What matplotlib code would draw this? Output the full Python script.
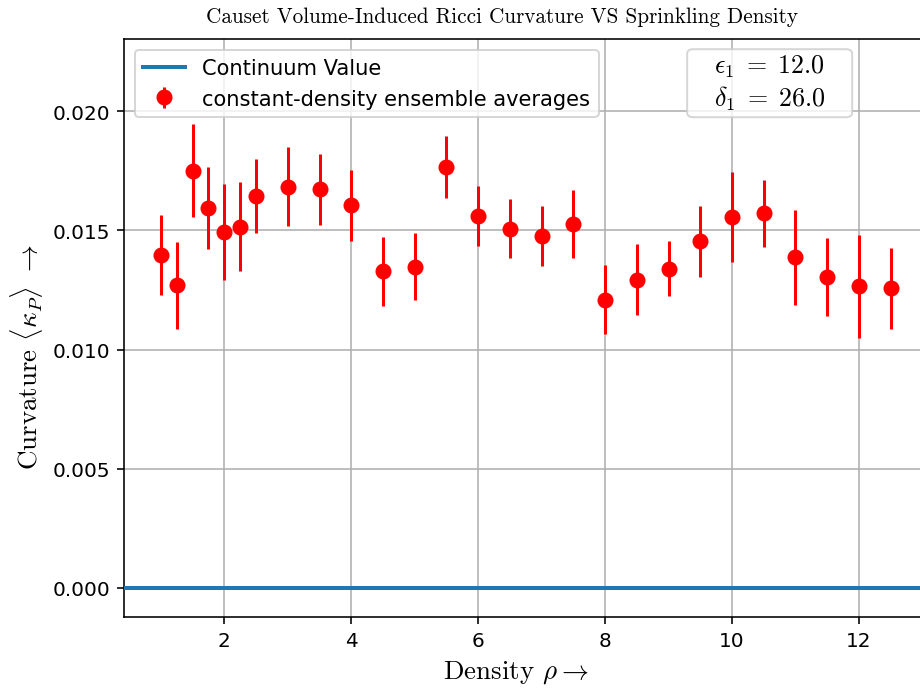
import numpy as np
import matplotlib.pyplot as plt
from matplotlib.patches import FancyBboxPatch

plt.rcParams["mathtext.fontset"] = "cm"
plt.rcParams["axes.unicode_minus"] = False

# ensemble averages of the curvature estimator at each sprinkling density
rho = [1.0, 1.25, 1.5, 1.75, 2.0, 2.25, 2.5, 3.0, 3.5, 4.0, 4.5, 5.0, 5.5, 6.0,
       6.5, 7.0, 7.5, 8.0, 8.5, 9.0, 9.5, 10.0, 10.5, 11.0, 11.5, 12.0, 12.5]
kappa_mean = [0.01396, 0.01270, 0.01750, 0.01593, 0.01494, 0.01515, 0.01645,
              0.01684, 0.01672, 0.01606, 0.01328, 0.01347, 0.01767, 0.01561,
              0.01507, 0.01476, 0.01526, 0.01209, 0.01293, 0.01340, 0.01454,
              0.01557, 0.01571, 0.01387, 0.01305, 0.01265, 0.01257]
kappa_err = [0.00168, 0.00183, 0.00195, 0.00172, 0.00201, 0.00186, 0.00156,
             0.00164, 0.00150, 0.00149, 0.00146, 0.00140, 0.00130, 0.00125,
             0.00125, 0.00127, 0.00143, 0.00145, 0.00150, 0.00114, 0.00150,
             0.00189, 0.00142, 0.00200, 0.00163, 0.00215, 0.00170]
continuum_value = 0.0
eps1, delta1 = 12.0, 26.0

fig = plt.figure(figsize=(6.39, 4.805), dpi=144)
ax = fig.add_axes([0.1352, 0.107, 0.8724, 0.835])

ax.axhline(continuum_value, color="C0", lw=2, label="Continuum Value", zorder=3)
ax.errorbar(rho, kappa_mean, yerr=kappa_err, fmt="o", color="red",
            markersize=7, elinewidth=1.5, label="constant-density ensemble averages",
            zorder=4)

ax.set_xlim(0.425, 13.075)
ax.set_ylim(-0.00122, 0.02302)
ax.set_xticks([2, 4, 6, 8, 10, 12])
ax.set_yticks([0.0, 0.005, 0.010, 0.015, 0.020])
ax.grid(True)

fig.text(0.5457, 1 - 17 / 692, "Causet Volume-Induced Ricci Curvature VS Sprinkling Density",
         family="cmr10", fontsize=10.6, ha="center", va="center")
ax.set_xlabel(r"Density $\rho \to$", family="cmr10", fontsize=13.5)
ax.set_ylabel(r"Curvature $\langle \kappa_P \rangle$ $\to$", family="cmr10", fontsize=13.5)
ax.xaxis.label.set_x(0.487)
ax.yaxis.label.set_y(0.4516)

ax.legend(loc="upper left", fontsize=10.5)

# parameter box
ax.add_patch(FancyBboxPatch((0.701, 0.865), 0.2056, 0.1177, transform=ax.transAxes,
                            boxstyle="round,pad=0,rounding_size=0.008",
                            facecolor="white", edgecolor="0.8", alpha=0.8, zorder=5))
ax.text(0.8036, 0.925, rf"$\epsilon_1 \;=\; {eps1}$" + "\n" + rf"$\delta_1 \;=\; {delta1}$",
        transform=ax.transAxes, ha="center", va="center", fontsize=13, zorder=6)

fig.savefig("out.png", dpi=144)
